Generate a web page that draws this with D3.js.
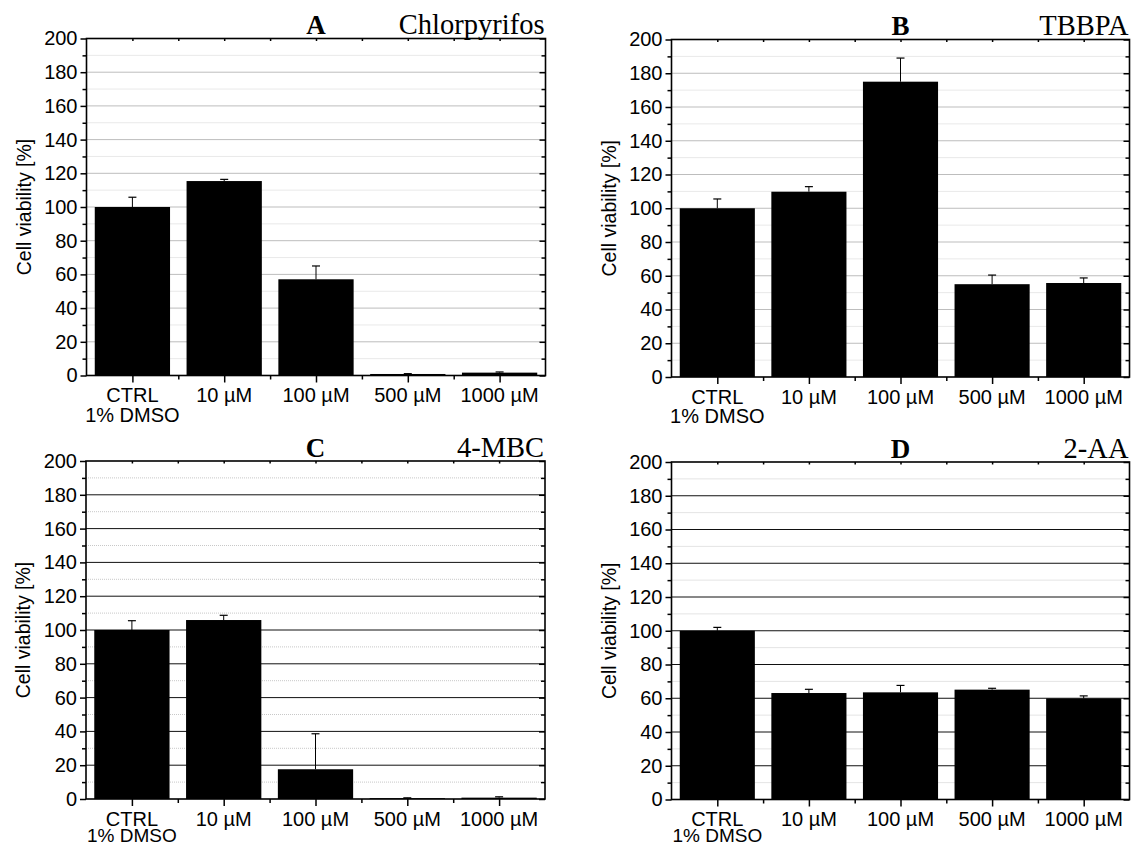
<!DOCTYPE html>
<html><head><meta charset="utf-8">
<script src="https://cdn.jsdelivr.net/npm/d3@7"></script>
<style>body{margin:0;background:#fff}svg{display:block}</style>
</head><body>
<svg id="chart" width="1131" height="845"></svg>
<script>
// ---- data ----
const categories = [["CTRL", "1% DMSO"], ["10 µM"], ["100 µM"], ["500 µM"], ["1000 µM"]];
const yTicks = [0, 20, 40, 60, 80, 100, 120, 140, 160, 180, 200];
const panelLetters = ["A", "B", "C", "D"];
const compoundNames = ["Chlorpyrifos", "TBBPA", "4-MBC", "2-AA"];
const chlorpyrifosMean = [100, 115.4, 57.1, 0.9, 1.7];
const chlorpyrifosErr  = [5.8, 1.0, 7.9, 0.2, 0.4];
const tbbpaMean = [100, 109.8, 175, 55, 55.7];
const tbbpaErr  = [5.5, 3.0, 14, 5.4, 3.0];
const mbcMean = [100, 105.9, 17.6, 0.5, 0.8];
const mbcErr  = [5.5, 2.8, 21, 0.2, 0.5];
const aaMean = [100, 63.1, 63.5, 65.1, 59.9];
const aaErr  = [2.0, 2.2, 4.1, 0.8, 1.5];
const yLabel = "Cell viability [%]";

// ---- layout ----
const panels = [
  {x0: 86.5, x1: 545.5, y0: 38.5, y1: 375.5, mean: chlorpyrifosMean, err: chlorpyrifosErr, dark: false, lh: 19.5},
  {x0: 671.5, x1: 1129.5, y0: 39.5, y1: 377, mean: tbbpaMean, err: tbbpaErr, dark: false, lh: 19.5},
  {x0: 86, x1: 545, y0: 461, y1: 799, mean: mbcMean, err: mbcErr, dark: true, lh: 16.5},
  {x0: 671.5, x1: 1129.5, y0: 462, y1: 799.5, mean: aaMean, err: aaErr, dark: true, lh: 16}
];

const svg = d3.select("#chart");
const sans = "Liberation Sans, Arial, sans-serif";
const serif = "Liberation Serif, Times New Roman, serif";
const fs = "20px";

panels.forEach((p, i) => {
  const g = svg.append("g");
  const x = d3.scaleBand().domain(d3.range(categories.length)).range([p.x0, p.x1]).paddingInner(0.18).paddingOuter(0.09);
  const y = d3.scaleLinear().domain([0, 200]).range([p.y1, p.y0]);
  const minor = d3.range(10, 200, 20);

  // grid
  g.selectAll(".minor").data(minor).join("line")
    .attr("x1", p.x0).attr("x2", p.x1).attr("y1", d => y(d)).attr("y2", d => y(d))
    .attr("stroke", p.dark ? "#c8c8c8" : "#d2d2d2").attr("stroke-width", 1).attr("stroke-dasharray", "1,1");
  g.selectAll(".major").data(yTicks.slice(1, -1)).join("line")
    .attr("x1", p.x0).attr("x2", p.x1).attr("y1", d => y(d)).attr("y2", d => y(d))
    .attr("stroke", p.dark ? "#111" : "#bdbdbd").attr("stroke-width", 1);

  // bars
  g.selectAll("rect.bar").data(p.mean).join("rect").attr("class", "bar")
    .attr("x", (d, k) => x(k)).attr("width", x.bandwidth())
    .attr("y", d => y(d)).attr("height", d => y(0) - y(d)).attr("fill", "#000");

  // error bars
  const eb = g.selectAll("g.eb").data(p.mean.map((m, k) => ({m, e: p.err[k], k}))).join("g");
  eb.append("line").attr("x1", d => x(d.k) + x.bandwidth() / 2).attr("x2", d => x(d.k) + x.bandwidth() / 2)
    .attr("y1", d => y(d.m)).attr("y2", d => y(d.m + d.e)).attr("stroke", "#000").attr("stroke-width", 1);
  eb.append("line").attr("x1", d => x(d.k) + x.bandwidth() / 2 - 4).attr("x2", d => x(d.k) + x.bandwidth() / 2 + 4)
    .attr("y1", d => y(d.m + d.e)).attr("y2", d => y(d.m + d.e)).attr("stroke", "#000").attr("stroke-width", 1.2);

  // left axis
  const left = d3.axisLeft(y).tickValues(yTicks).tickSize(6).tickPadding(3);
  const la = g.append("g").attr("transform", `translate(${p.x0},0)`).call(left);
  la.select(".domain").remove();
  la.selectAll("text").attr("font-family", sans).attr("font-size", fs).attr("fill", "#000");
  la.selectAll("line").attr("stroke", "#000").attr("stroke-width", 1.5);
  const lm = d3.axisLeft(y).tickValues(minor).tickSize(4).tickFormat("");
  const lma = g.append("g").attr("transform", `translate(${p.x0},0)`).call(lm);
  lma.select(".domain").remove();
  lma.selectAll("line").attr("stroke", "#000").attr("stroke-width", 1.5);

  // right axis (inward ticks)
  const ra = g.append("g").attr("transform", `translate(${p.x1},0)`).call(d3.axisLeft(y).tickValues(yTicks).tickSize(6).tickFormat(""));
  ra.select(".domain").remove(); ra.selectAll("line").attr("stroke", "#000").attr("stroke-width", 1.5);
  const rm = g.append("g").attr("transform", `translate(${p.x1},0)`).call(d3.axisLeft(y).tickValues(minor).tickSize(4).tickFormat(""));
  rm.select(".domain").remove(); rm.selectAll("line").attr("stroke", "#000").attr("stroke-width", 1.5);

  // bottom axis: major at centers, minor at boundaries
  const xc = d3.scaleLinear().domain([0, categories.length]).range([p.x0, p.x1]);
  const ba = g.append("g").attr("transform", `translate(0,${p.y1})`)
    .call(d3.axisBottom(xc).tickValues(d3.range(categories.length).map(k => k + 0.5)).tickSize(7).tickFormat(""));
  ba.select(".domain").remove(); ba.selectAll("line").attr("stroke", "#000").attr("stroke-width", 1.5);
  const bm = g.append("g").attr("transform", `translate(0,${p.y1})`)
    .call(d3.axisBottom(xc).tickValues(d3.range(1, categories.length)).tickSize(4).tickFormat(""));
  bm.select(".domain").remove(); bm.selectAll("line").attr("stroke", "#000").attr("stroke-width", 1.5);
  // top axis inward short ticks
  const ta = g.append("g").attr("transform", `translate(0,${p.y0})`)
    .call(d3.axisBottom(xc).tickValues(d3.range(1, categories.length * 2).map(k => k / 2)).tickSize(2.5).tickFormat(""));
  ta.select(".domain").remove(); ta.selectAll("line").attr("stroke", "#000").attr("stroke-width", 1.5);

  // category labels (one text element per line)
  categories.forEach((lines, k) => {
    lines.forEach((ln, j) => {
      g.append("text").attr("x", xc(k + 0.5)).attr("y", p.y1 + 26.5 + j * p.lh)
        .attr("text-anchor", "middle").attr("font-family", sans)
        .attr("font-size", j === 0 ? fs : (p.dark ? "19px" : fs)).attr("fill", "#000").text(ln);
    });
  });

  // frame
  g.append("rect").attr("x", p.x0).attr("y", p.y0).attr("width", p.x1 - p.x0).attr("height", p.y1 - p.y0)
    .attr("fill", "none").attr("stroke", "#000").attr("stroke-width", 1.6);

  // y label
  g.append("text").attr("transform", `translate(${p.x0 - 56},${(p.y0 + p.y1) / 2}) rotate(-90)`)
    .attr("text-anchor", "middle").attr("font-family", sans).attr("font-size", "19.5px").attr("fill", "#000").text(yLabel);

  // titles
  g.append("text").attr("x", (p.x0 + p.x1) / 2).attr("y", p.y0 - 4.5).attr("text-anchor", "middle")
    .attr("font-family", serif).attr("font-weight", "bold").attr("font-size", "27px").text(panelLetters[i]);
  g.append("text").attr("x", p.x1 - 1).attr("y", p.y0 - 4.5).attr("text-anchor", "end")
    .attr("font-family", serif).attr("font-size", "28.5px").text(compoundNames[i]);
});
</script>
</body></html>
